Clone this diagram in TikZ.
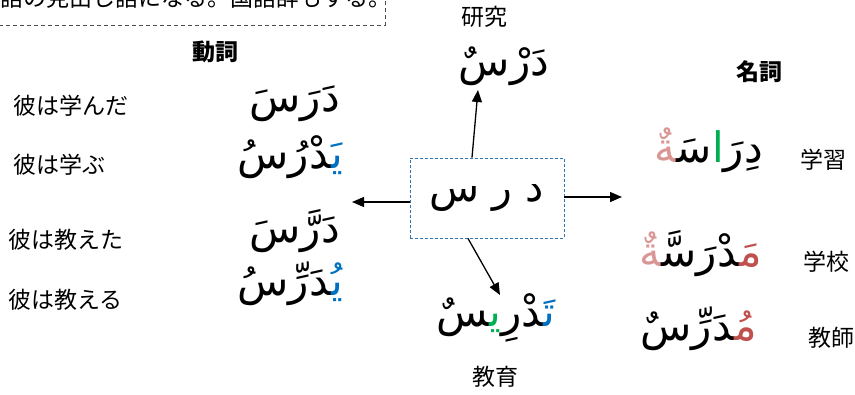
\documentclass[tikz,border=0pt]{standalone}
\usepackage{fontspec}
\usetikzlibrary{arrows.meta}
\TeXXeTstate=1
\newfontfamily\jpfont{Noto Sans CJK JP}
\newfontfamily\arfont[Script=Arabic]{DejaVu Sans}
\definecolor{ablue}{HTML}{0070C0}
\definecolor{agreen}{HTML}{00B050}
\definecolor{ared}{HTML}{C0504D}
\definecolor{apink}{HTML}{DA9694}
\definecolor{boxblue}{HTML}{2E75B6}
\tikzset{
  jp/.style={font=\jpfont\fontsize{23}{26}\selectfont, inner sep=0pt},
  jpbold/.style={font=\jpfont\bfseries\fontsize{23}{26}\selectfont, inner sep=0pt},
  ar/.style={font=\arfont\fontsize{42}{48}\selectfont, inner sep=0pt},
  arr/.style={line width=1.3pt, -{Triangle[length=12pt,width=10pt]}},
}
\begin{document}
\begin{tikzpicture}[x=1pt,y=-1pt]
\useasboundingbox (0,0) rectangle (855,394);

% note box, running off the top of the page
\draw[dashed, draw=black!70, line width=0.8pt, dash pattern=on 4pt off 3pt]
  (-20,-40) rectangle (385,25);
\node[jp, anchor=south west] (note) at (0,9) {語の見出し語になる。国語辞もする。};

% headings
\node[jpbold] (verbs) at (215,52) {動詞};
\node[jpbold] (nouns) at (759,72) {名詞};

% root letters
\node[draw=boxblue, dashed, dash pattern=on 3pt off 2pt, line width=0.9pt,
      minimum width=154pt, minimum height=80pt, inner sep=0pt, font=\arfont\fontsize{41}{46}\selectfont]
  (root) at (487,198) {\beginR د ر س\endR};

% top: study
\node[jp] (studyJp) at (484,17) {研究};
\node[ar] (study) at (504,66) {دَرْسٌ};
\coordinate (upTip) at (478,90);

% verbs (written in visual order, left to right)
\node[jp, anchor=west] (v1jp) at (13,106) {彼は学んだ};
\node[jp, anchor=west] (v2jp) at (13,165) {彼は学ぶ};
\node[jp, anchor=west] (v3jp) at (8,240) {彼は教えた};
\node[jp, anchor=west] (v4jp) at (8,300) {彼は教える};
\node[ar, anchor=east] (v1) at (340,104) {دَرَسَ};
\node[ar, anchor=east] (v2) at (343,157) {^^^^200dدْرُسُ{\color{ablue}يَ^^^^200d}};
\node[ar, anchor=east] (v3) at (340,231) {دَرَّسَ};
\node[ar, anchor=east] (v4) at (343,284) {^^^^200dدَرِّسُ{\color{ablue}يُ^^^^200d}};
\coordinate (leftTip) at (352,202);

% bottom: teaching
\node[ar] (teach) at (496,318) {^^^^200dسٌ{\color{agreen}ي^^^^200d}^^^^200dدْرِ{\color{ablue}تَ^^^^200d}};
\node[jp] (teachJp) at (495,377) {教育};
\coordinate (downTip) at (500,295);

% nouns
\node[ar, anchor=east] (n1) at (763,150) {{\color{apink}^^^^200dةٌ}سَ^^^^200d{\color{agreen}ا}دِرَ};
\node[ar, anchor=east] (n2) at (762,254) {{\color{apink}^^^^200dةٌ}^^^^200dدْرَسَّ^^^^200d{\color{ared}مَ^^^^200d}};
\node[ar, anchor=east] (n3) at (757,329) {^^^^200dدَرِّسٌ{\color{ared}مُ^^^^200d}};
\node[jp] (n1jp) at (823,160) {学習};
\node[jp] (n2jp) at (826,262) {学校};
\node[jp] (n3jp) at (831,338) {教師};
\coordinate (rightTip) at (622,197);

% connectors
\draw[arr] ([xshift=-15pt]root.north) -- (upTip);
\draw[arr] ([yshift=-4pt]root.west) -- (leftTip);
\draw[arr] ([yshift=1pt]root.east) -- (rightTip);
\draw[arr] ([xshift=-19pt]root.south) -- (downTip);
\end{tikzpicture}
\end{document}
